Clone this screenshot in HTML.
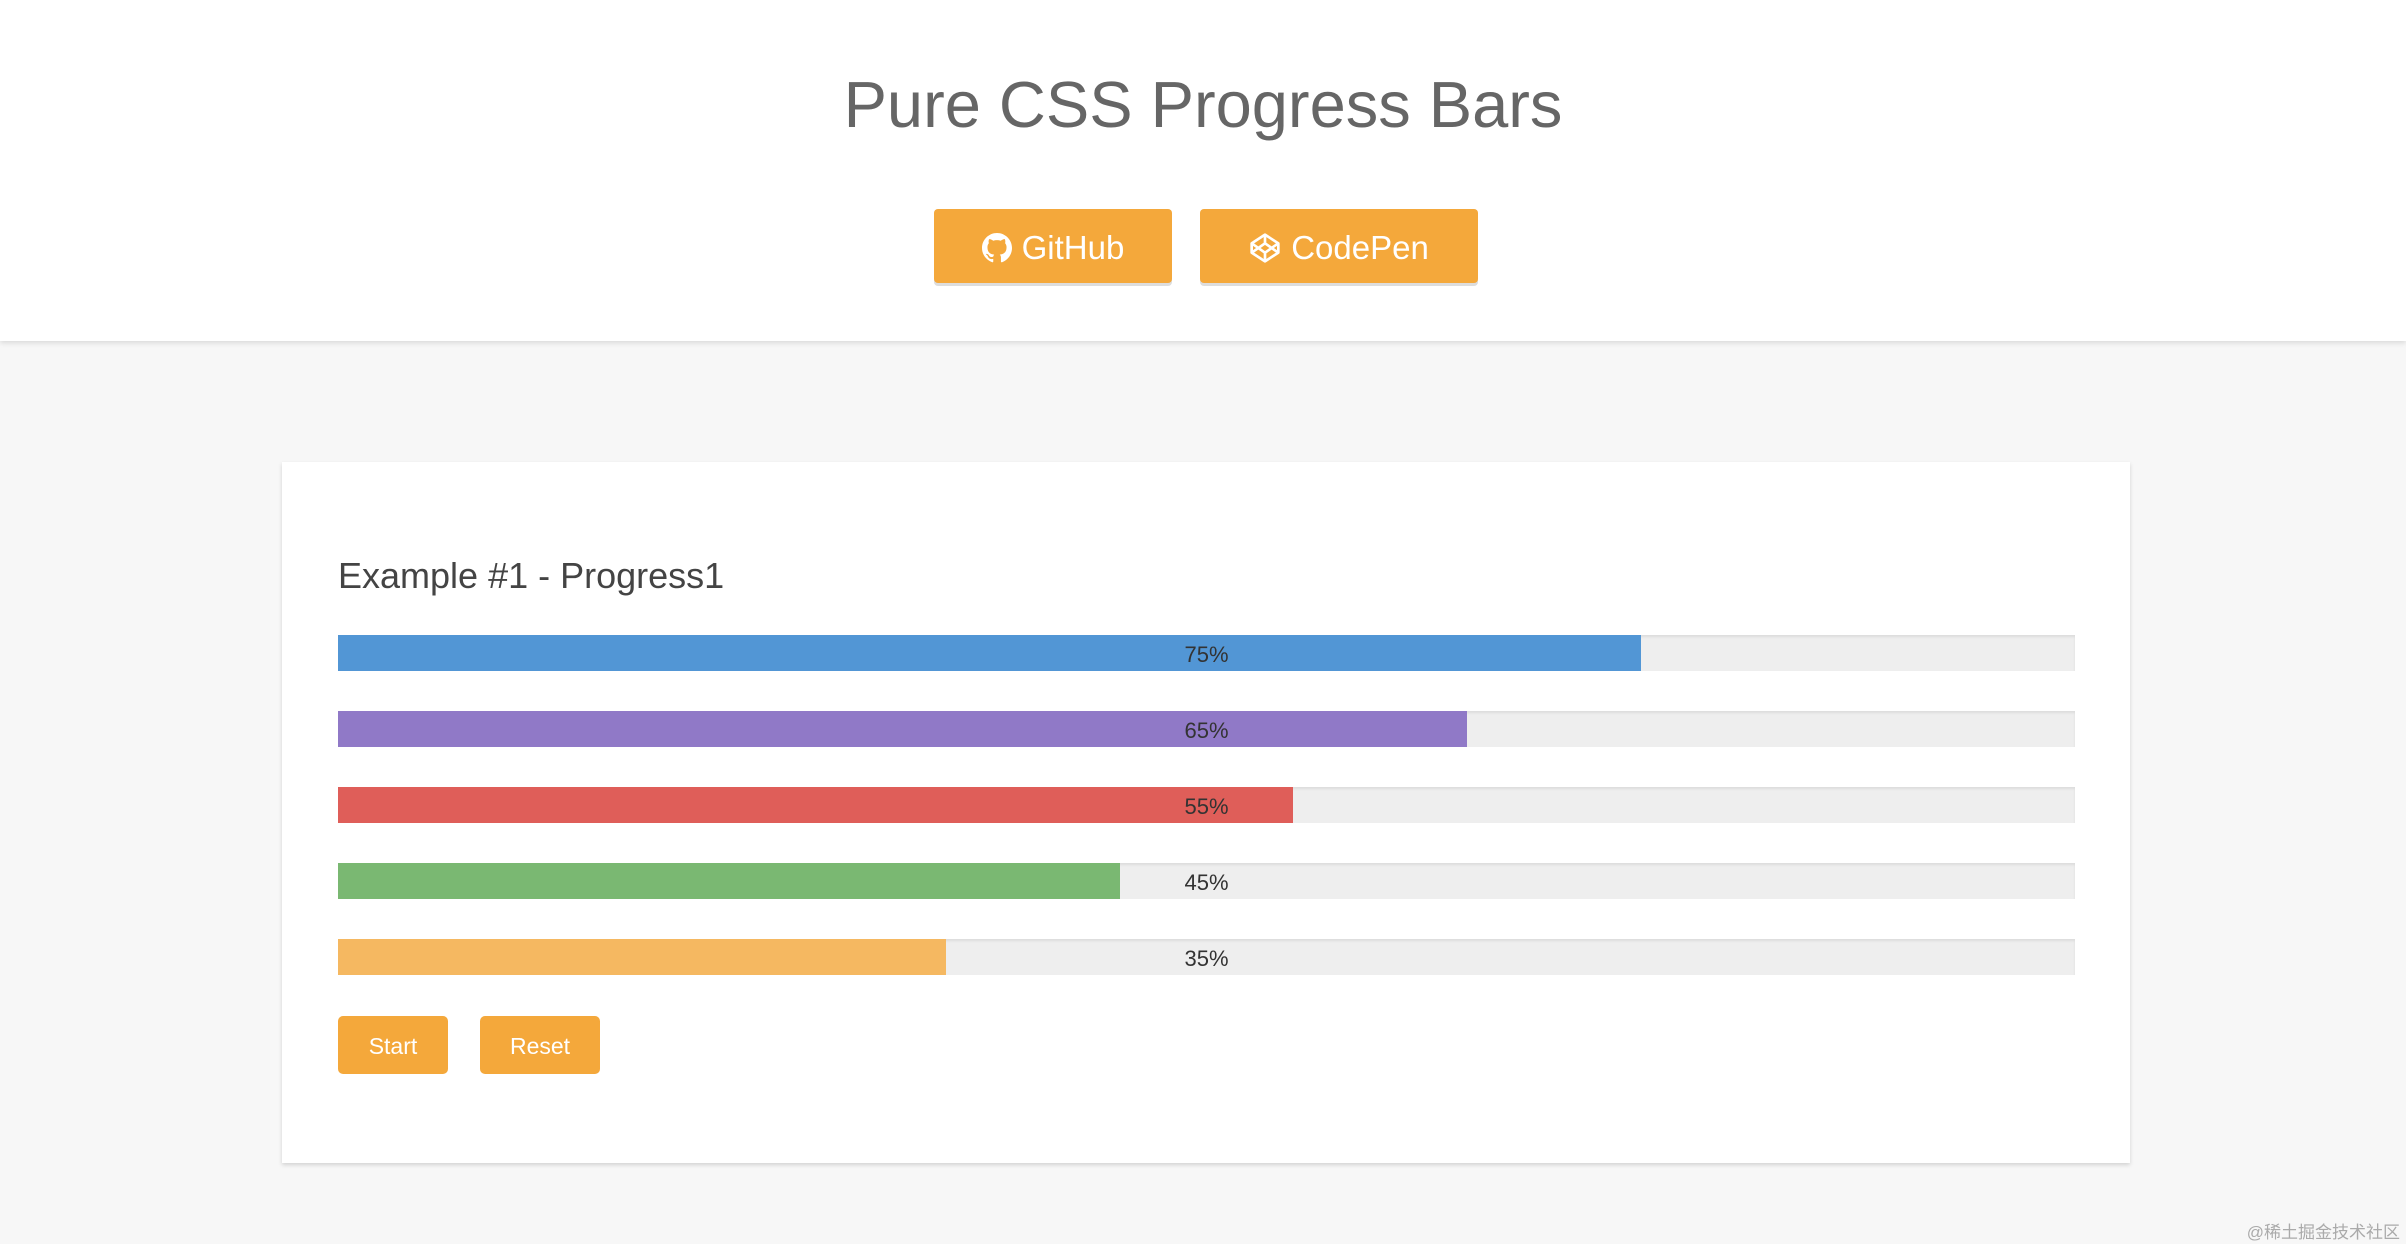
<!DOCTYPE html>
<html><head><meta charset="utf-8">
<style>
html,body{margin:0;padding:0;}
body{width:2406px;height:1244px;background:#f7f7f7;font-family:"Liberation Sans","Noto Sans CJK SC",sans-serif;position:relative;overflow:hidden;}
#header{position:absolute;left:0;top:0;width:2406px;height:341px;background:#fff;box-shadow:0 2px 5px rgba(0,0,0,0.12);}
#title{position:absolute;left:0;width:2406px;top:67px;text-align:center;font-size:65px;color:#666;}
.hbtn{position:absolute;top:209px;height:74px;background:#f4a83b;border-radius:4px;box-shadow:0 3px 0 #ddd;color:#fff;font-size:33px;display:flex;align-items:center;justify-content:center;gap:10px;padding-top:3px;box-sizing:border-box;}
#card{position:absolute;left:282px;top:462px;width:1848px;height:701px;background:#fff;box-shadow:0 2px 4px rgba(0,0,0,0.15);}
#heading{position:absolute;left:338px;top:555px;font-size:36px;color:#444;}
.track{position:absolute;left:338px;width:1737px;height:36px;background:#eee;box-shadow:inset 0 2px 2px rgba(0,0,0,0.08);}
.fill{position:absolute;left:0;top:0;height:36px;}
.lbl{position:absolute;left:0;width:1737px;top:2px;line-height:36px;text-align:center;font-size:22px;color:#333;}
.sbtn{position:absolute;top:1016px;height:58px;background:#f4a83b;border-radius:5px;color:#fff;font-size:23px;display:flex;align-items:center;justify-content:center;padding-top:3px;box-sizing:border-box;}
#wm{position:absolute;right:6px;top:1218px;font-size:17px;color:#aaa;}
</style></head><body>
<div id="header">
  <div id="title">Pure CSS Progress Bars</div>
  <div class="hbtn" style="left:934px;width:238px">
    <svg width="30" height="30" viewBox="0 0 16 16"><path fill="#fff" d="M8 0C3.6 0 0 3.6 0 8c0 3.5 2.3 6.5 5.5 7.6.4.1.5-.2.5-.4v-1.4c-2.200.5-2.700-1-2.700-1-.4-.9-.9-1.200-.9-1.200-.7-.5.1-.5.1-.5.8.1 1.200.8 1.200.8.7 1.300 1.900.9 2.300.7.1-.5.3-.9.5-1.100-1.800-.2-3.600-.9-3.600-4 0-.9.3-1.600.8-2.100-.1-.2-.4-1 .1-2.100 0 0 .7-.2 2.200.8.6-.2 1.300-.3 2-.3s1.400.1 2 .3c1.500-1 2.200-.8 2.200-.8.4 1.100.2 1.900.1 2.100.5.6.8 1.300.8 2.100 0 3.100-1.900 3.800-3.600 4 .3.3.6.8.6 1.500v2.200c0 .2.1.5.6.4C13.700 14.500 16 11.500 16 8c0-4.400-3.600-8-8-8z"/></svg>
    <span>GitHub</span></div>
  <div class="hbtn" style="left:1200px;width:278px">
    <svg width="32" height="32" viewBox="0 0 24 24"><g fill="none" stroke="#fff" stroke-width="2" stroke-linejoin="round"><path d="M12 2l10 6.5v7L12 22 2 15.5v-7z"/><path d="M12 22v-6.5M22 8.5l-10 7-10-7M2 15.5l10-7 10 7M12 2v6.5"/></g></svg>
    <span>CodePen</span></div>
</div>
<div id="card"></div>
<div id="heading">Example #1 - Progress1</div>
<div id="bars"></div>
<div class="sbtn" style="left:338px;width:110px">Start</div>
<div class="sbtn" style="left:480px;width:120px">Reset</div>
<div id="wm">@稀土掘金技术社区</div>
<script>
const barNames = ['blue','purple','red','green','orange'];
const barValues = [75, 65, 55, 45, 35];
const barColors = ['#5296d5','#9079c7','#df5e59','#7ab872','#f5b861'];
const TRACK_W = 1737, TOP0 = 635, STEP = 76;
const container = document.getElementById('bars');
function xScale(v){ return v / 100 * TRACK_W; }
barValues.forEach((v, i) => {
  const t = document.createElement('div');
  t.className = 'track';
  t.style.top = (TOP0 + i * STEP) + 'px';
  
  
  const f = document.createElement('div');
  f.className = 'fill';
  f.style.width = xScale(v) + 'px';
  f.style.background = barColors[i];
  
  
  const l = document.createElement('div');
  l.className = 'lbl';
  l.textContent = v + '%';
  
  
  t.appendChild(f); t.appendChild(l);
  container.appendChild(t);
});
</script>
</body></html>
